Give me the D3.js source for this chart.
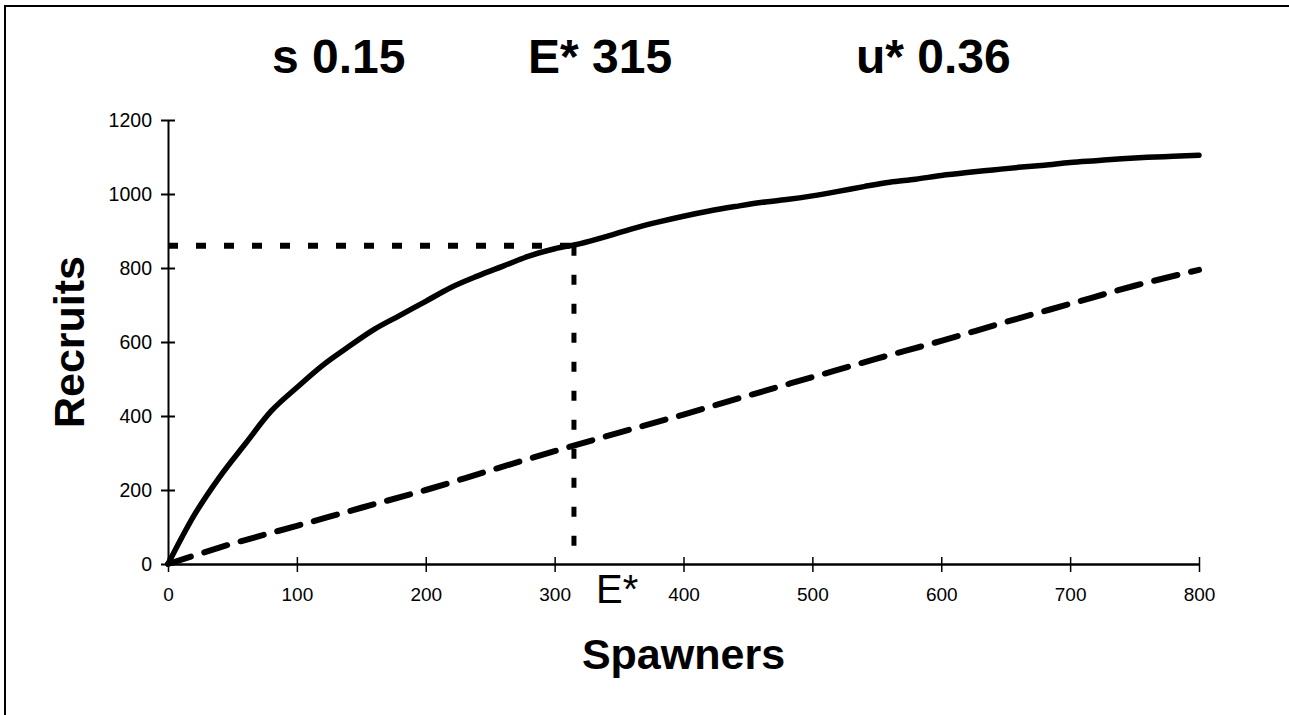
<!DOCTYPE html>
<html>
<head>
<meta charset="utf-8">
<script src="https://cdn.jsdelivr.net/npm/d3@7"></script>
<style>
  html, body { margin: 0; padding: 0; background: #fff; }
  svg { display: block; }
  text { font-family: "Liberation Sans", Arial, Helvetica, sans-serif; fill: #000; }
</style>
</head>
<body>
<svg id="chart" width="1289" height="715"></svg>
<script>
// ---- data ----
const spawners = [0, 20, 40, 60, 80, 100, 120, 140, 160, 180, 200, 220, 240, 260, 280, 300, 320, 340, 360, 380, 400, 420, 440, 460, 480, 500, 520, 540, 560, 580, 600, 620, 640, 660, 680, 700, 720, 740, 760, 780, 800];
const recruits = [0, 130, 235, 325, 413, 477, 537, 587, 634, 672, 710, 748, 778, 805, 832, 852, 866, 885, 906, 924, 940, 954, 966, 977, 985, 995, 1007, 1020, 1032, 1040, 1050, 1058, 1065, 1072, 1078, 1085, 1090, 1095, 1099, 1102, 1105];
const replS = [0, 50, 100, 150, 200, 250, 300, 350, 400, 450, 500, 550, 600, 650, 700, 750, 800];
const replR = [0, 55, 103, 152, 200, 253, 305, 355, 404, 455, 505, 555, 603, 654, 703, 752, 795];
const xTicks = [0, 100, 200, 300, 400, 500, 600, 700, 800];
const yTicks = [0, 200, 400, 600, 800, 1000, 1200];
const Estar = 315;
const Rstar = 860;
const titles = ["s 0.15", "E* 315", "u* 0.36"];
const titleStarts = [272, 528, 856];
const xTitle = "Spawners";
const yTitle = "Recruits";
const eLabel = "E*";

// ---- layout ----
const svg = d3.select("#chart");
const x = d3.scaleLinear().domain([0, 800]).range([168, 1199]);
const y = d3.scaleLinear().domain([0, 1200]).range([564, 120]);

// frame (top and left edges visible)
svg.append("path")
  .attr("d", "M5,715 L5,6 L1289,6")
  .attr("fill", "none").attr("stroke", "#000").attr("stroke-width", 2);

// titles
svg.selectAll("text.title").data(titles).enter().append("text")
  .attr("class", "title")
  .attr("x", (d, i) => titleStarts[i])
  .attr("y", 73)
  .attr("text-anchor", "start")
  .attr("font-size", 48).attr("font-weight", "bold")
  .text(d => d);

// axes
const yAxis = d3.axisLeft(y).tickValues(yTicks).tickSizeInner(7).tickSizeOuter(0).tickPadding(9)
  .tickFormat(d3.format("d"));
const gy = svg.append("g").attr("transform", `translate(${x(0)},0)`).call(yAxis);
gy.select(".domain").attr("stroke-width", 2);
gy.selectAll(".tick line").attr("x1", 7).attr("stroke-width", 2);
gy.selectAll(".tick text").attr("font-size", 19.5).attr("font-family", "Liberation Sans, Arial, sans-serif");

const xAxis = d3.axisBottom(x).tickValues(xTicks).tickSizeInner(8).tickSizeOuter(0).tickPadding(16)
  .tickFormat(d3.format("d"));
const gx = svg.append("g").attr("transform", `translate(0,${y(0)})`).call(xAxis);
gx.select(".domain").attr("stroke-width", 2.5);
gx.selectAll(".tick line").attr("y1", -7).attr("stroke-width", 1.5);
gx.selectAll(".tick text").attr("font-size", 19).attr("font-family", "Liberation Sans, Arial, sans-serif");

// axis titles
svg.append("text")
  .attr("x", (x(0) + x(800)) / 2).attr("y", 669)
  .attr("text-anchor", "middle")
  .attr("font-size", 43).attr("font-weight", "bold")
  .text(xTitle);
svg.append("text")
  .attr("transform", `translate(84,${(y(0) + y(1200)) / 2}) rotate(-90)`)
  .attr("text-anchor", "middle")
  .attr("font-size", 43).attr("font-weight", "bold")
  .text(yTitle);

// E* label under x axis
svg.append("text")
  .attr("x", x(Estar) + 22).attr("y", 603)
  .attr("font-size", 40)
  .text(eLabel);

// reference dotted lines
svg.append("line")
  .attr("x1", x(0)).attr("x2", x(Estar))
  .attr("y1", y(Rstar)).attr("y2", y(Rstar))
  .attr("stroke", "#000").attr("stroke-width", 6).attr("stroke-dasharray", "10,18");
svg.append("line")
  .attr("x1", x(Estar)).attr("x2", x(Estar))
  .attr("y1", y(Rstar)).attr("y2", y(0))
  .attr("stroke", "#000").attr("stroke-width", 5).attr("stroke-dasharray", "10,19");

// replacement line (dashed)
const replLine = d3.line().x((d, i) => x(replS[i])).y(d => y(d)).curve(d3.curveMonotoneX);
svg.append("path")
  .attr("d", replLine(replR))
  .attr("fill", "none").attr("stroke", "#000").attr("stroke-width", 6)
  .attr("stroke-linecap", "round").attr("stroke-dasharray", "24,14");

// stock-recruit curve (solid)
const srLine = d3.line().x((d, i) => x(spawners[i])).y(d => y(d)).curve(d3.curveMonotoneX);
svg.append("path")
  .attr("d", srLine(recruits))
  .attr("fill", "none").attr("stroke", "#000").attr("stroke-width", 5.5)
  .attr("stroke-linecap", "round");
</script>
</body>
</html>
